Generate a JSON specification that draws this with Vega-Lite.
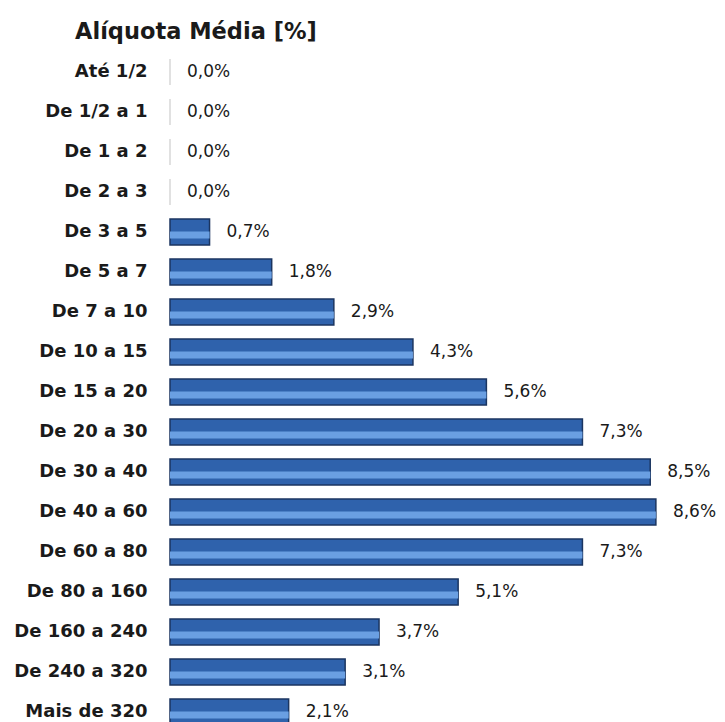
{
  "$schema": "https://vega.github.io/schema/vega-lite/v6.json",
  "autosize": "none",
  "width": 500,
  "height": 680,
  "padding": {"left": 170, "top": 52, "right": 55, "bottom": -10},
  "background": "white",
  "config": {
    "view": {"stroke": null},
    "locale": {"number": {"decimal": ",", "thousands": ".", "grouping": [3], "currency": ["R$", ""]}}
  },
  "title": {
    "text": "Alíquota Média [%]",
    "anchor": "start",
    "frame": "group",
    "dx": -95,
    "offset": 9,
    "font": "DejaVu Sans",
    "fontSize": 22.5,
    "fontWeight": "bold",
    "color": "#1a1a1a"
  },
  "data": {
    "values": [
      {"faixa": "Até 1/2", "v": 0.0},
      {"faixa": "De 1/2 a 1", "v": 0.0},
      {"faixa": "De 1 a 2", "v": 0.0},
      {"faixa": "De 2 a 3", "v": 0.0},
      {"faixa": "De 3 a 5", "v": 0.007},
      {"faixa": "De 5 a 7", "v": 0.018},
      {"faixa": "De 7 a 10", "v": 0.029},
      {"faixa": "De 10 a 15", "v": 0.043},
      {"faixa": "De 15 a 20", "v": 0.056},
      {"faixa": "De 20 a 30", "v": 0.073},
      {"faixa": "De 30 a 40", "v": 0.085},
      {"faixa": "De 40 a 60", "v": 0.086},
      {"faixa": "De 60 a 80", "v": 0.073},
      {"faixa": "De 80 a 160", "v": 0.051},
      {"faixa": "De 160 a 240", "v": 0.037},
      {"faixa": "De 240 a 320", "v": 0.031},
      {"faixa": "Mais de 320", "v": 0.021}
    ]
  },
  "encoding": {
    "y": {
      "field": "faixa",
      "type": "nominal",
      "sort": null,
      "title": null,
      "scale": {"paddingInner": 0.35, "paddingOuter": 0.175},
      "axis": {
        "ticks": false,
        "domain": false,
        "labelPadding": 23,
        "labelFont": "DejaVu Sans",
        "labelFontSize": 18,
        "labelFontWeight": "bold",
        "labelColor": "#1a1a1a"
      }
    },
    "x": {
      "field": "v",
      "type": "quantitative",
      "scale": {"domain": [0, 0.0885], "nice": false},
      "axis": null
    }
  },
  "layer": [
    {
      "mark": {"type": "bar", "size": 26, "strokeWidth": 1.5},
      "encoding": {
        "color": {"value": "#2F62AC"},
        "stroke": {
          "condition": {"test": "datum.v === 0", "value": "#d8d8d8"},
          "value": "#1B3560"
        }
      }
    },
    {
      "mark": {"type": "bar", "size": 7, "yOffset": 3, "color": "#6A9FE2"}
    },
    {
      "mark": {
        "type": "text",
        "align": "left",
        "baseline": "middle",
        "dx": 17,
        "font": "DejaVu Sans",
        "fontSize": 17,
        "color": "#1a1a1a"
      },
      "encoding": {
        "text": {"field": "v", "type": "quantitative", "format": ".1%"}
      }
    }
  ]
}
